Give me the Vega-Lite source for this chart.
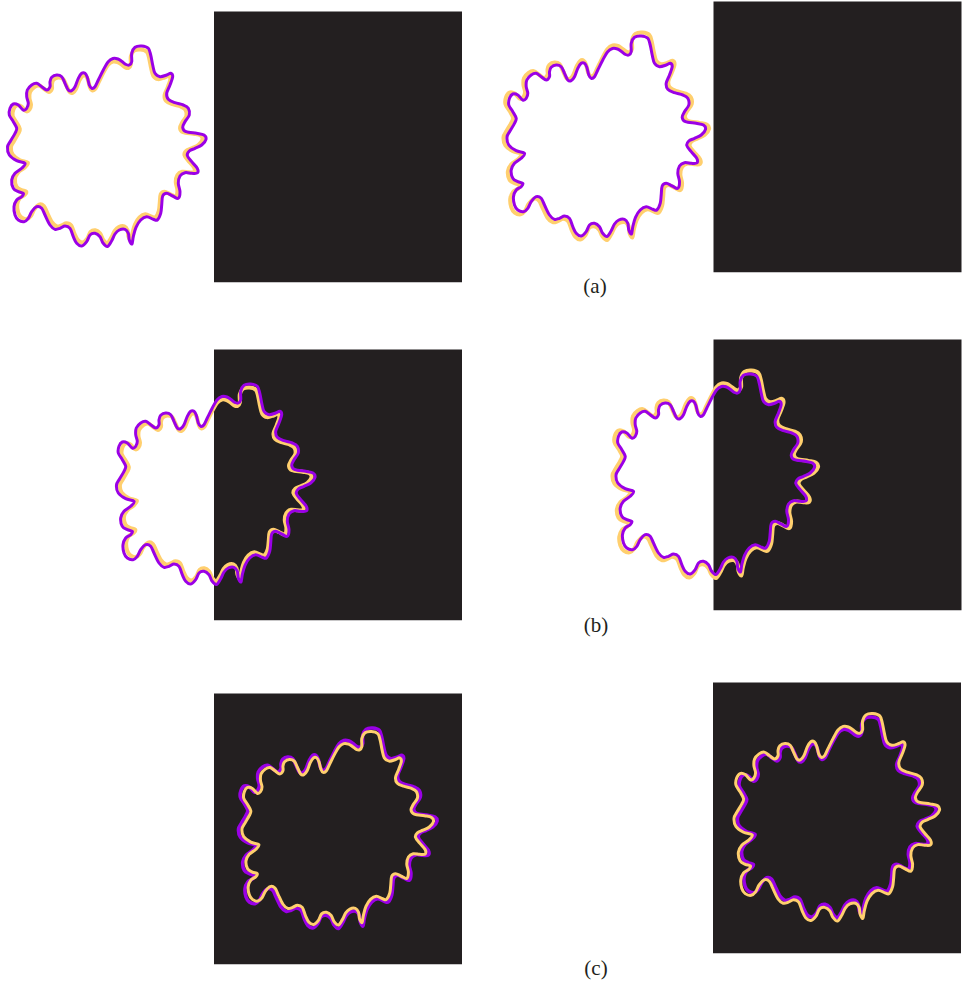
{
  "$schema": "https://vega.github.io/schema/vega-lite/v6.json",
  "padding": 0,
  "spacing": 0,
  "background": "white",
  "config": {"view": {"stroke": null}},
  "datasets": {
    "contour": [
      {"i":1,"x":-98.5,"y":1},{"i":2,"x":-95.5,"y":-5},{"i":3,"x":-91,"y":-12.7},{"i":4,"x":-89.3,"y":-17.7},
      {"i":5,"x":-92.7,"y":-24.3},{"i":6,"x":-96.7,"y":-31},{"i":7,"x":-96,"y":-37.7},{"i":8,"x":-92.7,"y":-42},
      {"i":9,"x":-87.7,"y":-41},{"i":10,"x":-82.7,"y":-36},{"i":11,"x":-79.3,"y":-37.7},{"i":12,"x":-77.7,"y":-42.7},
      {"i":13,"x":-79.3,"y":-49.3},{"i":14,"x":-78.7,"y":-56},{"i":15,"x":-74.3,"y":-61},{"i":16,"x":-69.3,"y":-62.7},
      {"i":17,"x":-64.3,"y":-59.3},{"i":18,"x":-59.3,"y":-56},{"i":19,"x":-56,"y":-59.3},{"i":20,"x":-56,"y":-64.3},
      {"i":21,"x":-54.3,"y":-68.7},{"i":22,"x":-49.3,"y":-71},{"i":23,"x":-44.3,"y":-69.3},{"i":24,"x":-41,"y":-62.7},
      {"i":25,"x":-37.7,"y":-56},{"i":26,"x":-34.3,"y":-55.3},{"i":27,"x":-31,"y":-59.3},{"i":28,"x":-27.7,"y":-67.7},
      {"i":29,"x":-24.3,"y":-72.7},{"i":30,"x":-21,"y":-72.7},{"i":31,"x":-18.7,"y":-68.7},{"i":32,"x":-16.7,"y":-61},
      {"i":33,"x":-14.3,"y":-57.7},{"i":34,"x":-11,"y":-59.3},{"i":35,"x":-7.7,"y":-66},{"i":36,"x":-2.7,"y":-76},
      {"i":37,"x":2,"y":-84},{"i":38,"x":7,"y":-87.5},{"i":39,"x":12,"y":-87},{"i":40,"x":16,"y":-84.5},
      {"i":41,"x":20,"y":-81.5},{"i":42,"x":23.3,"y":-81},{"i":43,"x":25.7,"y":-84.3},{"i":44,"x":25.7,"y":-92.7},
      {"i":45,"x":29,"y":-98.7},{"i":46,"x":35.7,"y":-100},{"i":47,"x":42.3,"y":-97.7},{"i":48,"x":44.7,"y":-91},
      {"i":49,"x":46.7,"y":-81},{"i":50,"x":49,"y":-72.7},{"i":51,"x":54,"y":-69.3},{"i":52,"x":60.7,"y":-71},
      {"i":53,"x":64.7,"y":-72.7},{"i":54,"x":66.7,"y":-69.3},{"i":55,"x":64,"y":-61},{"i":56,"x":60.7,"y":-52.7},
      {"i":57,"x":62.3,"y":-46.7},{"i":58,"x":69,"y":-43.3},{"i":59,"x":77.3,"y":-41},{"i":60,"x":82.3,"y":-37.7},
      {"i":61,"x":83.3,"y":-31},{"i":62,"x":79,"y":-24.3},{"i":63,"x":76.7,"y":-18.7},{"i":64,"x":80,"y":-14.3},
      {"i":65,"x":90.7,"y":-12.7},{"i":66,"x":98,"y":-11},{"i":67,"x":100,"y":-6.7},{"i":68,"x":95.7,"y":-1},
      {"i":69,"x":89,"y":2.3},{"i":70,"x":83.3,"y":5},{"i":71,"x":81.3,"y":9.5},{"i":72,"x":85.7,"y":15.7},
      {"i":73,"x":91.3,"y":22.3},{"i":74,"x":91.3,"y":27},{"i":75,"x":85.7,"y":27.3},{"i":76,"x":79,"y":26.7},
      {"i":77,"x":74,"y":30},{"i":78,"x":72.3,"y":37.3},{"i":79,"x":74,"y":45.7},{"i":80,"x":72.3,"y":52.3},
      {"i":81,"x":66.7,"y":50},{"i":82,"x":60.7,"y":47.3},{"i":83,"x":56.7,"y":50},{"i":84,"x":55.7,"y":59},
      {"i":85,"x":54.7,"y":67.3},{"i":86,"x":51.3,"y":74},{"i":87,"x":47.3,"y":73.3},{"i":88,"x":40.7,"y":70.7},
      {"i":89,"x":34.7,"y":74},{"i":90,"x":30,"y":81.3},{"i":91,"x":27.3,"y":90.7},{"i":92,"x":26,"y":98},
      {"i":93,"x":23.3,"y":94},{"i":94,"x":22.3,"y":87.3},{"i":95,"x":19,"y":83.3},{"i":96,"x":13.3,"y":84},
      {"i":97,"x":9,"y":88},{"i":98,"x":5.7,"y":94.7},{"i":99,"x":1.5,"y":100.5},{"i":100,"x":-3,"y":97},
      {"i":101,"x":-6,"y":90.7},{"i":102,"x":-11,"y":87.3},{"i":103,"x":-16,"y":89},{"i":104,"x":-19.3,"y":95.7},
      {"i":105,"x":-24.3,"y":100},{"i":106,"x":-29.3,"y":97.3},{"i":107,"x":-32.7,"y":90.7},{"i":108,"x":-36,"y":82.3},
      {"i":109,"x":-41,"y":80},{"i":110,"x":-46,"y":82.3},{"i":111,"x":-51,"y":83.3},{"i":112,"x":-56,"y":79},
      {"i":113,"x":-61,"y":69},{"i":114,"x":-64.3,"y":62.3},{"i":115,"x":-69.3,"y":60.7},{"i":116,"x":-74.3,"y":65.7},
      {"i":117,"x":-77.7,"y":72.3},{"i":118,"x":-82,"y":75.7},{"i":119,"x":-87.7,"y":74},{"i":120,"x":-91,"y":69},
      {"i":121,"x":-92,"y":60.7},{"i":122,"x":-89.3,"y":54},{"i":123,"x":-84.3,"y":50.7},{"i":124,"x":-82.7,"y":47.3},
      {"i":125,"x":-87.7,"y":45.7},{"i":126,"x":-92.7,"y":42.3},{"i":127,"x":-94.3,"y":34},{"i":128,"x":-91,"y":27.3},
      {"i":129,"x":-84.3,"y":22.3},{"i":130,"x":-81,"y":17.3},{"i":131,"x":-89.3,"y":14.7},{"i":132,"x":-96.7,"y":9}
    ],
    "squares": [
      {"row":"a","x1":108,"x2":356,"y1":-134.5,"y2":136.3},
      {"row":"b","x1":-1,"x2":247,"y1":-134.5,"y2":136.3},
      {"row":"c","x1":-123,"x2":125,"y1":-134.5,"y2":136.3}
    ],
    "captions": [
      {"row":"a","label":"(a)","x":-10.5,"y":151.3},
      {"row":"b","label":"(b)","x":-118.5,"y":151.5},
      {"row":"c","label":"(c)","x":-240,"y":152}
    ]
  },
  "vconcat": [
    {
      "spacing": 0,
      "hconcat": [
        {
          "width": 481, "height": 310,
          "resolve": {"scale": {"x": "independent", "y": "independent"}},
          "layer": [
            {"data":{"name":"squares"},"transform":[{"filter":"datum.row === 'a'"}],"mark":{"type":"rect","color":"#231F20"},
             "encoding":{"x":{"field":"x1","type":"quantitative","scale":{"domain":[-106,375],"nice":false,"zero":false},"axis":null},"x2":{"field":"x2"},
                         "y":{"field":"y1","type":"quantitative","scale":{"domain":[-146,164],"nice":false,"zero":false,"reverse":true},"axis":null},"y2":{"field":"y2"}}},
            {"data":{"name":"contour"},"mark":{"type":"line","interpolate":"cardinal-closed","color":"#FFCF6E","strokeWidth":4,"strokeJoin":"round"},
             "encoding":{"x":{"field":"x","type":"quantitative","scale":{"domain":[-109.84,388.6],"nice":false,"zero":false},"axis":null},
                         "y":{"field":"y","type":"quantitative","scale":{"domain":[-151.3,169.95],"nice":false,"zero":false,"reverse":true},"axis":null},
                         "order":{"field":"i","type":"quantitative"}}},
            {"data":{"name":"contour"},"mark":{"type":"line","interpolate":"cardinal-closed","color":"#9A00E6","strokeWidth":3,"strokeJoin":"round"},
             "encoding":{"x":{"field":"x","type":"quantitative","scale":{"domain":[-106,375],"nice":false,"zero":false},"axis":null},
                         "y":{"field":"y","type":"quantitative","scale":{"domain":[-146,164],"nice":false,"zero":false,"reverse":true},"axis":null},
                         "order":{"field":"i","type":"quantitative"}}}
          ]
        },
        {
          "width": 481, "height": 310,
          "resolve": {"scale": {"x": "independent", "y": "independent"}},
          "layer": [
            {"data":{"name":"squares"},"transform":[{"filter":"datum.row === 'a'"}],"mark":{"type":"rect","color":"#231F20"},
             "encoding":{"x":{"field":"x1","type":"quantitative","scale":{"domain":[-124.5,356.5],"nice":false,"zero":false},"axis":null},"x2":{"field":"x2"},
                         "y":{"field":"y1","type":"quantitative","scale":{"domain":[-136,174],"nice":false,"zero":false,"reverse":true},"axis":null},"y2":{"field":"y2"}}},
            {"data":{"name":"contour"},"mark":{"type":"line","interpolate":"cardinal-closed","color":"#FFCF6E","strokeWidth":4,"strokeJoin":"round"},
             "encoding":{"x":{"field":"x","type":"quantitative","scale":{"domain":[-120.29,344.44],"nice":false,"zero":false},"axis":null},
                         "y":{"field":"y","type":"quantitative","scale":{"domain":[-131.4,168.12],"nice":false,"zero":false,"reverse":true},"axis":null},
                         "order":{"field":"i","type":"quantitative"}}},
            {"data":{"name":"contour"},"mark":{"type":"line","interpolate":"cardinal-closed","color":"#9A00E6","strokeWidth":3,"strokeJoin":"round"},
             "encoding":{"x":{"field":"x","type":"quantitative","scale":{"domain":[-124.5,356.5],"nice":false,"zero":false},"axis":null},
                         "y":{"field":"y","type":"quantitative","scale":{"domain":[-136,174],"nice":false,"zero":false,"reverse":true},"axis":null},
                         "order":{"field":"i","type":"quantitative"}}},
            {"data":{"name":"captions"},"transform":[{"filter":"datum.row === 'a'"}],
             "mark":{"type":"text","font":"Liberation Serif","fontSize":21,"color":"#231F20","align":"center","baseline":"middle"},
             "encoding":{"x":{"field":"x","type":"quantitative","scale":{"domain":[-124.5,356.5],"nice":false,"zero":false},"axis":null},
                         "y":{"field":"y","type":"quantitative","scale":{"domain":[-136,174],"nice":false,"zero":false,"reverse":true},"axis":null},
                         "text":{"field":"label"}}}
          ]
        }
      ]
    },
    {
      "spacing": 0,
      "hconcat": [
        {
          "width": 481, "height": 340,
          "resolve": {"scale": {"x": "independent", "y": "independent"}},
          "layer": [
            {"data":{"name":"squares"},"transform":[{"filter":"datum.row === 'b'"}],"mark":{"type":"rect","color":"#231F20"},
             "encoding":{"x":{"field":"x1","type":"quantitative","scale":{"domain":[-215,266],"nice":false,"zero":false},"axis":null},"x2":{"field":"x2"},
                         "y":{"field":"y1","type":"quantitative","scale":{"domain":[-174,166],"nice":false,"zero":false,"reverse":true},"axis":null},"y2":{"field":"y2"}}},
            {"data":{"name":"contour"},"mark":{"type":"line","interpolate":"cardinal-closed","color":"#FFCF6E","strokeWidth":4,"strokeJoin":"round"},
             "encoding":{"x":{"field":"x","type":"quantitative","scale":{"domain":[-222.8,275.65],"nice":false,"zero":false},"axis":null},
                         "y":{"field":"y","type":"quantitative","scale":{"domain":[-180.31,172.02],"nice":false,"zero":false,"reverse":true},"axis":null},
                         "order":{"field":"i","type":"quantitative"}}},
            {"data":{"name":"contour"},"mark":{"type":"line","interpolate":"cardinal-closed","color":"#9A00E6","strokeWidth":3,"strokeJoin":"round"},
             "encoding":{"x":{"field":"x","type":"quantitative","scale":{"domain":[-215,266],"nice":false,"zero":false},"axis":null},
                         "y":{"field":"y","type":"quantitative","scale":{"domain":[-174,166],"nice":false,"zero":false,"reverse":true},"axis":null},
                         "order":{"field":"i","type":"quantitative"}}}
          ]
        },
        {
          "width": 481, "height": 340,
          "resolve": {"scale": {"x": "independent", "y": "independent"}},
          "layer": [
            {"data":{"name":"squares"},"transform":[{"filter":"datum.row === 'b'"}],"mark":{"type":"rect","color":"#231F20"},
             "encoding":{"x":{"field":"x1","type":"quantitative","scale":{"domain":[-233.5,247.5],"nice":false,"zero":false},"axis":null},"x2":{"field":"x2"},
                         "y":{"field":"y1","type":"quantitative","scale":{"domain":[-164,176],"nice":false,"zero":false,"reverse":true},"axis":null},"y2":{"field":"y2"}}},
            {"data":{"name":"contour"},"mark":{"type":"line","interpolate":"cardinal-closed","color":"#FFCF6E","strokeWidth":4,"strokeJoin":"round"},
             "encoding":{"x":{"field":"x","type":"quantitative","scale":{"domain":[-225.6,239.13],"nice":false,"zero":false},"axis":null},
                         "y":{"field":"y","type":"quantitative","scale":{"domain":[-158.45,170.05],"nice":false,"zero":false,"reverse":true},"axis":null},
                         "order":{"field":"i","type":"quantitative"}}},
            {"data":{"name":"contour"},"mark":{"type":"line","interpolate":"cardinal-closed","color":"#9A00E6","strokeWidth":3,"strokeJoin":"round"},
             "encoding":{"x":{"field":"x","type":"quantitative","scale":{"domain":[-233.5,247.5],"nice":false,"zero":false},"axis":null},
                         "y":{"field":"y","type":"quantitative","scale":{"domain":[-164,176],"nice":false,"zero":false,"reverse":true},"axis":null},
                         "order":{"field":"i","type":"quantitative"}}},
            {"data":{"name":"captions"},"transform":[{"filter":"datum.row === 'b'"}],
             "mark":{"type":"text","font":"Liberation Serif","fontSize":21,"color":"#231F20","align":"center","baseline":"middle"},
             "encoding":{"x":{"field":"x","type":"quantitative","scale":{"domain":[-233.5,247.5],"nice":false,"zero":false},"axis":null},
                         "y":{"field":"y","type":"quantitative","scale":{"domain":[-164,176],"nice":false,"zero":false,"reverse":true},"axis":null},
                         "text":{"field":"label"}}}
          ]
        }
      ]
    },
    {
      "spacing": 0,
      "hconcat": [
        {
          "width": 481, "height": 331,
          "resolve": {"scale": {"x": "independent", "y": "independent"}},
          "layer": [
            {"data":{"name":"squares"},"transform":[{"filter":"datum.row === 'c'"}],"mark":{"type":"rect","color":"#231F20"},
             "encoding":{"x":{"field":"x1","type":"quantitative","scale":{"domain":[-337,144],"nice":false,"zero":false},"axis":null},"x2":{"field":"x2"},
                         "y":{"field":"y1","type":"quantitative","scale":{"domain":[-178,153],"nice":false,"zero":false,"reverse":true},"axis":null},"y2":{"field":"y2"}}},
            {"data":{"name":"contour"},"mark":{"type":"line","interpolate":"cardinal-closed","color":"#9A00E6","strokeWidth":3.5,"strokeJoin":"round"},
             "encoding":{"x":{"field":"x","type":"quantitative","scale":{"domain":[-337,144],"nice":false,"zero":false},"axis":null},
                         "y":{"field":"y","type":"quantitative","scale":{"domain":[-178,153],"nice":false,"zero":false,"reverse":true},"axis":null},
                         "order":{"field":"i","type":"quantitative"}}},
            {"data":{"name":"contour"},"mark":{"type":"line","interpolate":"cardinal-closed","color":"#FFCF6E","strokeWidth":3,"strokeJoin":"round"},
             "encoding":{"x":{"field":"x","type":"quantitative","scale":{"domain":[-349.22,149.22],"nice":false,"zero":false},"axis":null},
                         "y":{"field":"y","type":"quantitative","scale":{"domain":[-184.46,158.55],"nice":false,"zero":false,"reverse":true},"axis":null},
                         "order":{"field":"i","type":"quantitative"}}}
          ]
        },
        {
          "width": 481, "height": 331,
          "resolve": {"scale": {"x": "independent", "y": "independent"}},
          "layer": [
            {"data":{"name":"squares"},"transform":[{"filter":"datum.row === 'c'"}],"mark":{"type":"rect","color":"#231F20"},
             "encoding":{"x":{"field":"x1","type":"quantitative","scale":{"domain":[-355,126],"nice":false,"zero":false},"axis":null},"x2":{"field":"x2"},
                         "y":{"field":"y1","type":"quantitative","scale":{"domain":[-167,164],"nice":false,"zero":false,"reverse":true},"axis":null},"y2":{"field":"y2"}}},
            {"data":{"name":"contour"},"mark":{"type":"line","interpolate":"cardinal-closed","color":"#9A00E6","strokeWidth":3.5,"strokeJoin":"round"},
             "encoding":{"x":{"field":"x","type":"quantitative","scale":{"domain":[-355,126],"nice":false,"zero":false},"axis":null},
                         "y":{"field":"y","type":"quantitative","scale":{"domain":[-167,164],"nice":false,"zero":false,"reverse":true},"axis":null},
                         "order":{"field":"i","type":"quantitative"}}},
            {"data":{"name":"contour"},"mark":{"type":"line","interpolate":"cardinal-closed","color":"#FFCF6E","strokeWidth":3,"strokeJoin":"round"},
             "encoding":{"x":{"field":"x","type":"quantitative","scale":{"domain":[-343,121.74],"nice":false,"zero":false},"axis":null},
                         "y":{"field":"y","type":"quantitative","scale":{"domain":[-161.35,158.45],"nice":false,"zero":false,"reverse":true},"axis":null},
                         "order":{"field":"i","type":"quantitative"}}},
            {"data":{"name":"captions"},"transform":[{"filter":"datum.row === 'c'"}],
             "mark":{"type":"text","font":"Liberation Serif","fontSize":21,"color":"#231F20","align":"center","baseline":"middle"},
             "encoding":{"x":{"field":"x","type":"quantitative","scale":{"domain":[-355,126],"nice":false,"zero":false},"axis":null},
                         "y":{"field":"y","type":"quantitative","scale":{"domain":[-167,164],"nice":false,"zero":false,"reverse":true},"axis":null},
                         "text":{"field":"label"}}}
          ]
        }
      ]
    }
  ]
}
